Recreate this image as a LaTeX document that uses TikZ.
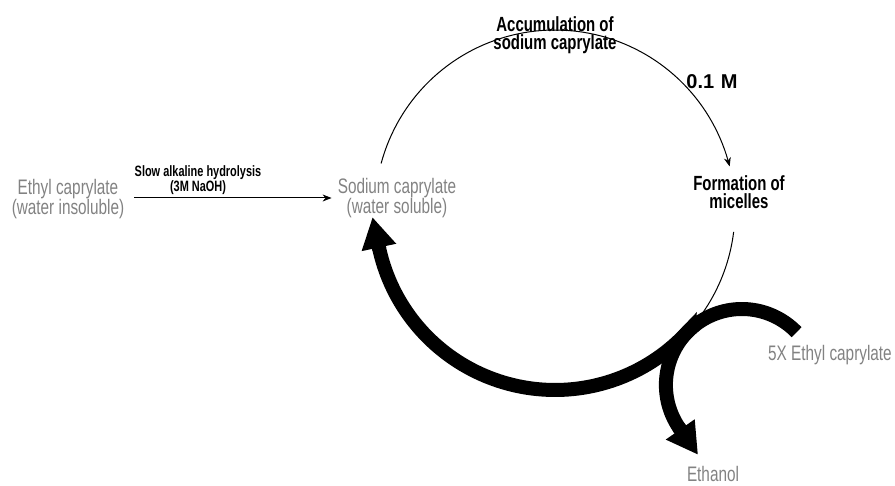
\documentclass[tikz,border=0pt]{standalone}
\usepackage{fontspec}
\setmainfont{Liberation Sans}
\newfontfamily\narrowfont[FakeStretch=0.73]{Liberation Sans}
\usetikzlibrary{arrows.meta,calc}
\definecolor{labelgrey}{RGB}{130,130,130}
\tikzset{
  greylabel/.style={font=\narrowfont\fontsize{21}{19.5}\selectfont, text=labelgrey, align=center, inner sep=0pt},
  steplabel/.style={font=\narrowfont\bfseries\fontsize{20.5}{18.5}\selectfont, align=center, inner sep=0pt},
  notelabel/.style={font=\narrowfont\bfseries\fontsize{15}{15}\selectfont, align=center, inner sep=0pt},
  thinflow/.style={line width=1pt, -{Stealth[length=9pt,width=7pt]}},
  thinline/.style={line width=1pt},
  bigline/.style={line width=14pt},
  bighead/.style={line width=14pt, -{Triangle[length=31pt,width=33pt]}}
}
\begin{document}
\begin{tikzpicture}[x=1pt,y=-1pt]
\useasboundingbox (0,0) rectangle (895,486);
% reaction cycle: ring centre/radius and the small hook that joins it
\pgfmathsetmacro\ringx{555}
\pgfmathsetmacro\ringy{210}
\pgfmathsetmacro\ringr{180}
\pgfmathsetmacro\hookx{741.9}
\pgfmathsetmacro\hooky{385}
\pgfmathsetmacro\hookr{76}

% labels
\node[greylabel] (ethyl) at (68,199) {Ethyl caprylate\\(water insoluble)};
\node[greylabel] (sodium) at (397,198) {Sodium caprylate\\(water soluble)};
\node[notelabel] (slow) at (198,180) {Slow alkaline hydrolysis\\(3M NaOH)};
\node[steplabel] (accum) at (555,35) {Accumulation of\\sodium caprylate};
\node[font=\bfseries\fontsize{20}{20}\selectfont, inner sep=0pt] (conc) at (712,82) {0.1\,\,M};
\node[steplabel] (micelles) at (739,192) {Formation of\\micelles};
\node[greylabel, anchor=west] (excess) at (768,355) {5X Ethyl caprylate};
\node[greylabel] (ethanol) at (713,474) {Ethanol};

% hydrolysis step
\draw[thinflow] ([xshift=10pt]ethyl.east |- 0,198) -- ([xshift=-6pt]sodium.west |- 0,198);

% thin ring: accumulation -> micelles, and on down to the hook
\draw[thinflow] plot[domain=195:346, samples=80] ({\ringx+\ringr*cos(\x)},{\ringy+\ringr*sin(\x)});
\draw[thinline] plot[domain=7:35, samples=20] ({\ringx+\ringr*cos(\x)},{\ringy+\ringr*sin(\x)});

% heavy return arrow: in from the excess ester, round the hook, back to the salt
\coordinate (retbase) at ({\ringx+\ringr*cos(168)},{\ringy+\ringr*sin(168)});
\draw[bigline] plot[domain=-44:-136.9, samples=40] ({\hookx+\hookr*cos(\x)},{\hooky+\hookr*sin(\x)})
  -- plot[domain=43.1:168.5, samples=80] ({\ringx+\ringr*cos(\x)},{\ringy+\ringr*sin(\x)});
\coordinate (rettip) at ($(retbase)+(-6.45,-30.3)$);
\draw[bighead] ($(retbase)+(0.42,1.96)$) -- (rettip);

% ethanol released
\coordinate (etbase) at ({\hookx+\hookr*cos(145)},{\hooky+\hookr*sin(145)});
\draw[bigline] plot[domain=232:144.5, samples=40] ({\hookx+\hookr*cos(\x)},{\hooky+\hookr*sin(\x)});
\coordinate (ettip) at ($(etbase)+(18.4,26.2)$);
\draw[bighead] ($(etbase)+(-1.15,-1.64)$) -- (ettip);
\end{tikzpicture}
\end{document}
